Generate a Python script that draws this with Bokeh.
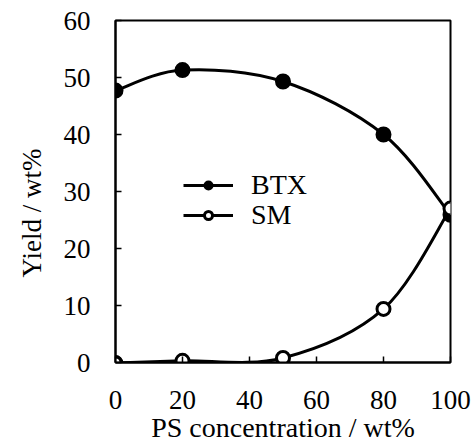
from bokeh.plotting import figure
from bokeh.models import Range1d, Legend, LegendItem, FixedTicker, Title
from bokeh.embed import file_html
from bokeh.resources import INLINE

# data
ps_conc = [0, 20, 50, 80, 100]
btx = [47.7, 51.3, 49.3, 40.0, 25.9]
sm = [-0.1, 0.3, 0.8, 9.4, 27.0]
x_ticks = [0, 20, 40, 60, 80, 100]
y_ticks = [0, 10, 20, 30, 40, 50, 60]
series_names = ["BTX", "SM"]
x_title = "PS concentration / wt%"
y_title = "Yield / wt%"

FONT = "Liberation Serif"

p = figure(width=472, height=445, output_backend="svg", toolbar_location=None,
           x_range=Range1d(0, 100), y_range=Range1d(0, 60),
           frame_width=335, frame_height=342,
           min_border_left=115, min_border_right=22, min_border_top=20, min_border_bottom=83)
p.grid.visible = False
p.outline_line_color = "black"
p.outline_line_width = 2
p.background_fill_color = "white"
p.border_fill_color = "white"

for ax in (p.xaxis[0], p.yaxis[0]):
    ax.axis_line_width = 2
    ax.major_tick_line_width = 1.5
    ax.major_tick_in = 6
    ax.major_tick_out = 0
    ax.minor_tick_in = 0
    ax.minor_tick_out = 0
    ax.major_label_text_font = FONT
    ax.major_label_text_font_size = "27px"
    ax.major_label_text_color = "black"

p.xaxis.ticker = FixedTicker(ticks=x_ticks)
p.yaxis.ticker = FixedTicker(ticks=y_ticks)
p.xaxis.major_label_standoff = 28
p.yaxis.major_label_standoff = 25

p.xaxis.axis_label = x_title
p.xaxis.axis_label_text_font = FONT
p.xaxis.axis_label_text_font_size = "28px"
p.xaxis.axis_label_text_font_style = "normal"
p.xaxis.axis_label_text_color = "black"
p.xaxis.axis_label_standoff = 0

ytitle = Title(text=y_title, align="left", offset=85, standoff=27,
               text_font=FONT, text_font_size="27px", text_font_style="normal",
               text_color="black")
p.add_layout(ytitle, "left")


def smooth_segments(xs, ys):
    # Excel-style smoothed line: cubic Bezier control points derived from neighbouring data
    n = len(xs)
    segs = {k: [] for k in ("x0", "y0", "x1", "y1", "cx0", "cy0", "cx1", "cy1")}
    for i in range(n - 1):
        xp, yp = (xs[i - 1], ys[i - 1]) if i > 0 else (xs[i], ys[i])
        xn2, yn2 = (xs[i + 2], ys[i + 2]) if i + 2 < n else (xs[i + 1], ys[i + 1])
        segs["x0"].append(xs[i]); segs["y0"].append(ys[i])
        segs["x1"].append(xs[i + 1]); segs["y1"].append(ys[i + 1])
        segs["cx0"].append(xs[i] + (xs[i + 1] - xp) / 6)
        segs["cy0"].append(ys[i] + (ys[i + 1] - yp) / 6)
        segs["cx1"].append(xs[i + 1] - (xn2 - xs[i]) / 6)
        segs["cy1"].append(ys[i + 1] - (yn2 - ys[i]) / 6)
    return segs


p.bezier(**smooth_segments(ps_conc, btx), line_color="black", line_width=3)
p.bezier(**smooth_segments(ps_conc, sm), line_color="black", line_width=3)
p.scatter(ps_conc, btx, size=14, fill_color="black", line_color="black", line_width=2)
p.scatter(ps_conc, sm, size=13, fill_color="white", line_color="black", line_width=3)

# legend proxies
l1 = p.line([None], [None], line_color="black", line_width=3)
l2 = p.line([None], [None], line_color="black", line_width=3)
s1 = p.scatter([None], [None], size=12, fill_color="black", line_color="black", line_width=2)
s2 = p.scatter([None], [None], size=11, fill_color="white", line_color="black", line_width=3)


def make_legend(label, rends, loc):
    lg = Legend(items=[LegendItem(label=label, renderers=rends)], location=loc)
    lg.border_line_color = None
    lg.background_fill_alpha = 0
    lg.padding = 0
    lg.margin = 0
    lg.spacing = 0
    lg.glyph_width = 50
    lg.glyph_height = 20
    lg.label_height = 20
    lg.label_standoff = 18
    lg.label_text_font = FONT
    lg.label_text_font_size = "28px"
    lg.label_text_color = "black"
    return lg


p.add_layout(make_legend(series_names[0], [l1, s1], (68, 161)), "center")
p.add_layout(make_legend(series_names[1], [l2, s2], (68, 131)), "center")

open("out.html", "w").write(file_html(p, INLINE))
